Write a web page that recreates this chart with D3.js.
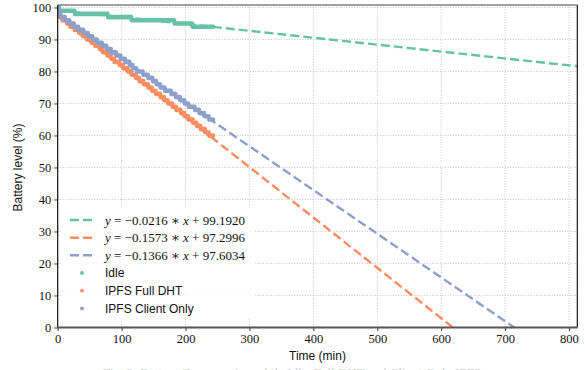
<!DOCTYPE html>
<html>
<head>
<meta charset="utf-8">
<script src="https://cdn.jsdelivr.net/npm/d3@7"></script>
<style>
  html, body { margin: 0; padding: 0; background: #fff; }
  svg { display: block; }
</style>
</head>
<body>
<div id="vis"></div>
<script>
// Battery level vs time — scatter (measured steps) + dashed linear fits

const width = 585, height = 370;
const margin = {left: 57.7, right: 7.7, top: 5, bottom: 42.5};

// ---- data ----
// each series: [first minute at that level, battery level]
const idleSteps = [
  [0, 100], [3, 99], [27, 98], [79, 97], [116, 96], [183, 95], [211, 94]
];
const fullDhtSteps = [
  [0, 100], [1, 99], [2, 98], [3, 97], [8, 96], [15, 95], [20, 94], [27, 93],
  [34, 92], [40, 91], [46, 90], [53, 89], [59, 88], [66, 87], [71, 86],
  [78, 85], [84, 84], [89, 83], [97, 82], [103, 81], [110, 80], [116, 79],
  [123, 78], [128, 77], [135, 76], [142, 75], [148, 74], [154, 73], [161, 72],
  [167, 71], [173, 70], [180, 69], [186, 68], [193, 67], [199, 66], [205, 65],
  [212, 64], [218, 63], [224, 62], [231, 61], [237, 60]
];
const clientOnlySteps = [
  [0, 100], [1, 99], [3, 98], [5, 97], [12, 96], [19, 95], [26, 94], [33, 93],
  [41, 92], [48, 91], [55, 90], [62, 89], [70, 88], [77, 87], [84, 86],
  [92, 85], [99, 84], [106, 83], [113, 82], [118, 81], [124, 80], [134, 79],
  [142, 78], [149, 77], [155, 76], [161, 75], [168, 74], [178, 73], [185, 72],
  [192, 71], [199, 70], [205, 69], [215, 68], [222, 67], [230, 66], [237, 65]
];
const lastSample = 243;

const seriesNames = ["Idle", "IPFS Full DHT", "IPFS Client Only"];
const slopes      = [-0.0216, -0.1573, -0.1366];
const intercepts  = [99.1920, 97.2996, 97.6034];
const colors      = ["#66c2a5", "#fc8d62", "#8da0cb"];

const xTicks = [0, 100, 200, 300, 400, 500, 600, 700, 800];
const yTicks = [0, 10, 20, 30, 40, 50, 60, 70, 80, 90, 100];

const steps = [idleSteps, fullDhtSteps, clientOnlySteps];

// ---- scales ----
const x = d3.scaleLinear().domain([0, 813]).range([margin.left, width - margin.right]);
const y = d3.scaleLinear().domain([0, 100.78]).range([height - margin.bottom, margin.top]);

const svg = d3.select("#vis").append("svg")
  .attr("width", width).attr("height", height)
  .attr("viewBox", [0, 0, width, height]);

const serif = "'Liberation Serif', 'DejaVu Serif', serif";
const sans  = "'Liberation Sans', 'DejaVu Sans', sans-serif";

svg.append("clipPath").attr("id", "plot-clip")
  .append("rect")
  .attr("x", x(0)).attr("y", y(100.78))
  .attr("width", x(813) - x(0)).attr("height", y(0) - y(100.78));

// grid
const gGrid = svg.append("g").attr("class", "grid")
  .attr("stroke", "#b8b8b8").attr("stroke-width", 0.8).attr("stroke-dasharray", "1,1.6");
gGrid.selectAll("line.v").data(xTicks).enter().append("line")
  .attr("x1", d => x(d)).attr("x2", d => x(d))
  .attr("y1", y(0)).attr("y2", y(100.78));
gGrid.selectAll("line.h").data(yTicks).enter().append("line")
  .attr("x1", x(0)).attr("x2", x(813))
  .attr("y1", d => y(d)).attr("y2", d => y(d));

// fitted lines (behind the measurements)
const gFit = svg.append("g").attr("clip-path", "url(#plot-clip)");
const fitLine = d3.line().x(d => x(d[0])).y(d => y(d[1]));
seriesNames.forEach((name, i) => {
  const pts = [0, 813].map(t => [t, slopes[i] * t + intercepts[i]]);
  gFit.append("path")
    .attr("d", fitLine(pts))
    .attr("fill", "none")
    .attr("stroke", colors[i])
    .attr("stroke-width", 2.4)
    .attr("stroke-dasharray", "9,4");
});

// measured points (dense, drawn as one band per battery level)
const gPts = svg.append("g").attr("clip-path", "url(#plot-clip)");
steps.forEach((s, i) => {
  gPts.append("g").selectAll("line").data(s).enter().append("line")
    .attr("x1", d => x(d[0]))
    .attr("x2", (d, j) => x(j < s.length - 1 ? Math.max(d[0], s[j + 1][0] - 1) : lastSample))
    .attr("y1", d => y(d[1]))
    .attr("y2", d => y(d[1]))
    .attr("stroke", colors[i])
    .attr("stroke-width", 4.6)
    .attr("stroke-linecap", "round");
});

// axes
const xAxis = svg.append("g")
  .attr("transform", `translate(0,${y(0)})`)
  .call(d3.axisBottom(x).tickValues(xTicks).tickSize(3.5).tickPadding(3).tickSizeOuter(0));
const yAxis = svg.append("g")
  .attr("transform", `translate(${x(0)},0)`)
  .call(d3.axisLeft(y).tickValues(yTicks).tickSize(3.5).tickPadding(3).tickSizeOuter(0));

[xAxis, yAxis].forEach(g => {
  g.select(".domain").remove();
  g.selectAll("text").attr("font-family", serif).attr("font-size", 12.5).attr("fill", "#111");
  g.selectAll(".tick line").attr("stroke", "#222").attr("stroke-width", 0.9);
});

// spines
const frame = svg.append("g").attr("fill", "none");
frame.append("line").attr("x1", x(0)).attr("x2", x(0)).attr("y1", y(0)).attr("y2", y(100.78))
  .attr("stroke", "#000").attr("stroke-width", 1.1);
frame.append("line").attr("x1", x(813)).attr("x2", x(813)).attr("y1", y(0)).attr("y2", y(100.78))
  .attr("stroke", "#000").attr("stroke-width", 1.1);
frame.append("line").attr("x1", x(0)).attr("x2", x(813)).attr("y1", y(100.78)).attr("y2", y(100.78))
  .attr("stroke", "#444").attr("stroke-width", 1.1);
frame.append("line").attr("x1", x(0)).attr("x2", x(813)).attr("y1", y(0)).attr("y2", y(0))
  .attr("stroke", "#555").attr("stroke-width", 1.8);

// axis labels
svg.append("text")
  .attr("x", (x(0) + x(813)) / 2).attr("y", 360)
  .attr("text-anchor", "middle")
  .attr("font-family", sans).attr("font-size", 12).attr("fill", "#111")
  .text("Time (min)");
svg.append("text")
  .attr("transform", `translate(22,${(y(0) + y(100)) / 2}) rotate(-90)`)
  .attr("text-anchor", "middle")
  .attr("font-family", sans).attr("font-size", 12).attr("fill", "#111")
  .text("Battery level (%)");

// legend
const gLeg = svg.append("g");
gLeg.append("rect")
  .attr("x", 62).attr("y", 209).attr("width", 192).attr("height", 110)
  .attr("fill", "#fff").attr("fill-opacity", 0.85);

const rowY = [220, 237.7, 255.3, 273, 290.7, 308.4];
seriesNames.forEach((name, i) => {
  const ly = rowY[i];
  gLeg.append("line")
    .attr("x1", 70).attr("x2", 96).attr("y1", ly).attr("y2", ly)
    .attr("stroke", colors[i]).attr("stroke-width", 2.4)
    .attr("stroke-dasharray", "9,4");
  const sign = intercepts[i] >= 0 ? "+" : "\u2212";
  const t = gLeg.append("text")
    .attr("x", 105).attr("y", ly + 4.5)
    .attr("font-family", serif).attr("font-size", 13).attr("fill", "#111");
  t.append("tspan").attr("font-style", "italic").text("y");
  t.append("tspan").text(` = \u2212${Math.abs(slopes[i]).toFixed(4)} \u2217 `);
  t.append("tspan").attr("font-style", "italic").text("x");
  t.append("tspan").text(` ${sign} ${Math.abs(intercepts[i]).toFixed(4)}`);
});
seriesNames.forEach((name, i) => {
  const ly = rowY[i + 3];
  gLeg.append("circle")
    .attr("cx", 82).attr("cy", ly).attr("r", 1.9)
    .attr("fill", colors[i]);
  gLeg.append("text")
    .attr("x", 105).attr("y", ly + 4.2)
    .attr("font-family", sans).attr("font-size", 12).attr("fill", "#111")
    .text(name);
});

// clipped caption from the page below the figure
svg.append("text")
  .attr("x", 292).attr("y", 377)
  .attr("text-anchor", "middle")
  .attr("font-family", serif).attr("font-size", 13).attr("fill", "#d0d0d0")
  .text("Fig. 3: Battery Consumption while Idle, Full DHT and Client-Only IPFS");
</script>
</body>
</html>
